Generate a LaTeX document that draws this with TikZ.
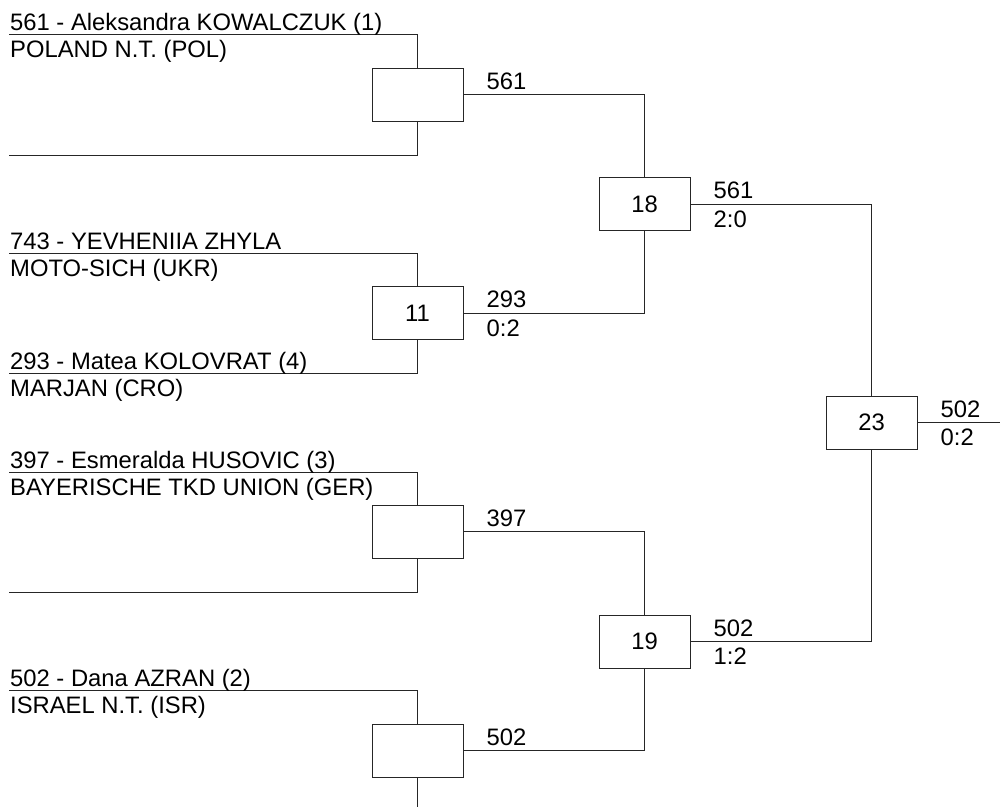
\documentclass[tikz,border=0pt]{standalone}
\usepackage{fontspec}
\setmainfont{Liberation Sans}
\usetikzlibrary{calc}
\begin{document}
\begin{tikzpicture}[x=1pt,y=-1pt,
  ln/.style={line width=1pt,draw=black!85},
  mbox/.style={draw=black!85,line width=1pt,minimum width=91pt,minimum height=53pt,inner sep=0pt,font=\fontsize{23.8}{28}\selectfont},
  txt/.style={inner sep=0pt,font=\fontsize{23.8}{28}\selectfont},
  lbl/.style={txt,anchor=base west},
]
\useasboundingbox (0,0) rectangle (1000,807);
% entry coordinates
\coordinate (e1) at (9,34);
\coordinate (e2) at (9,155);
\coordinate (e3) at (9,253);
\coordinate (e4) at (9,373);
\coordinate (e5) at (9,472);
\coordinate (e6) at (9,592);
\coordinate (e7) at (9,690);
\coordinate (e8) at (417.5,807);
% match boxes
\node[mbox] (m1) at (417.5,94.5) {};
\node[mbox] (m11) at (417.5,313) {11};
\node[mbox] (m3) at (417.5,531.5) {};
\node[mbox] (m4) at (417.5,750.5) {};
\node[mbox] (m18) at (644.5,204) {18};
\node[mbox] (m19) at (644.5,641.5) {19};
\node[mbox] (m23) at (871.5,422.5) {23};
\coordinate (out) at (1000,422.5);
% connectors
\draw[ln] (e1) -| (m1.north);
\draw[ln] (e2) -| (m1.south);
\draw[ln] (e3) -| (m11.north);
\draw[ln] (e4) -| (m11.south);
\draw[ln] (e5) -| (m3.north);
\draw[ln] (e6) -| (m3.south);
\draw[ln] (e7) -| (m4.north);
\draw[ln] (m4.south) -- (e8);
\draw[ln] (m1.east) -| (m18.north);
\draw[ln] (m11.east) -| (m18.south);
\draw[ln] (m3.east) -| (m19.north);
\draw[ln] (m4.east) -| (m19.south);
\draw[ln] (m18.east) -| (m23.north);
\draw[ln] (m19.east) -| (m23.south);
\draw[ln] (m23.east) -- (out);
% competitor texts
\node[lbl] (n1) at (10,30.5) {561 - Aleksandra KOWALCZUK (1)};
\node[lbl] (c1) at (10,57) {POLAND N.T. (POL)};
\node[lbl] (n3) at (10,249.5) {743 - YEVHENIIA ZHYLA};
\node[lbl] (c3) at (10,276) {MOTO-SICH (UKR)};
\node[lbl] (n4) at (10,369.5) {293 - Matea KOLOVRAT (4)};
\node[lbl] (c4) at (10,396) {MARJAN (CRO)};
\node[lbl] (n5) at (10,468.5) {397 - Esmeralda HUSOVIC (3)};
\node[lbl] (c5) at (10,495) {BAYERISCHE TKD UNION (GER)};
\node[lbl] (n7) at (10,686.5) {502 - Dana AZRAN (2)};
\node[lbl] (c7) at (10,713) {ISRAEL N.T. (ISR)};
% result labels
\node[lbl] (r1) at ($(m1.east)+(23,-5.5)$) {561};
\node[lbl] (r11) at ($(m11.east)+(23,-5.5)$) {293};
\node[lbl] (s11) at ($(m11.east)+(23,23)$) {0:2};
\node[lbl] (r3) at ($(m3.east)+(23,-5.5)$) {397};
\node[lbl] (r4) at ($(m4.east)+(23,-5.5)$) {502};
\node[lbl] (r18) at ($(m18.east)+(23,-5.5)$) {561};
\node[lbl] (s18) at ($(m18.east)+(23,23)$) {2:0};
\node[lbl] (r19) at ($(m19.east)+(23,-5.5)$) {502};
\node[lbl] (s19) at ($(m19.east)+(23,23)$) {1:2};
\node[lbl] (r23) at ($(m23.east)+(23,-5.5)$) {502};
\node[lbl] (s23) at ($(m23.east)+(23,23)$) {0:2};
\end{tikzpicture}
\end{document}
